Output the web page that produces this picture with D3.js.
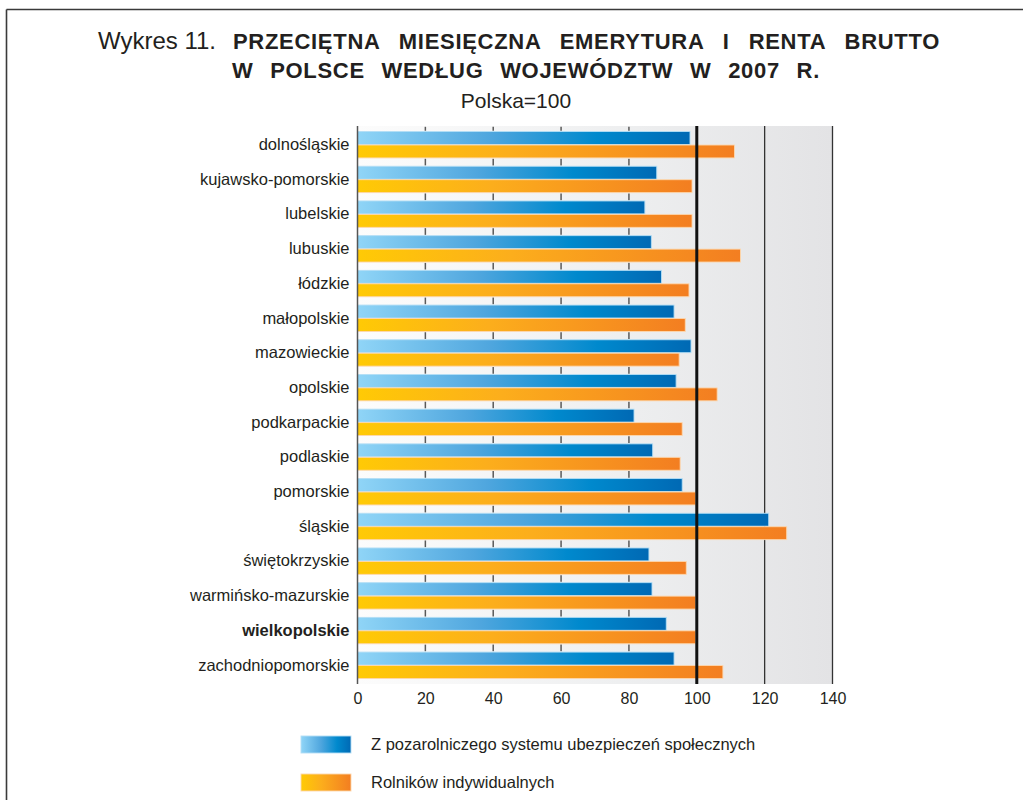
<!DOCTYPE html>
<html>
<head>
<meta charset="utf-8">
<script src="https://cdn.jsdelivr.net/npm/d3@7"></script>
<style>
  body { margin: 0; background: #fff; }
  svg { display: block; font-family: "Liberation Sans", Arial, sans-serif; }
</style>
</head>
<body>
<svg width="1023" height="800"></svg>
<script>
// województwa, top to bottom
var regions = ["dolnośląskie", "kujawsko-pomorskie", "lubelskie", "lubuskie", "łódzkie",
    "małopolskie", "mazowieckie", "opolskie", "podkarpackie", "podlaskie", "pomorskie",
    "śląskie", "świętokrzyskie", "warmińsko-mazurskie", "wielkopolskie", "zachodniopomorskie"];
// Z pozarolniczego systemu ubezpieczeń społecznych
var pozarolniczy = [98.0, 88.2, 84.7, 86.6, 89.6, 93.3, 98.3, 93.9, 81.5, 87.0, 95.7, 121.2, 85.9, 86.8, 91.0, 93.3];
// Rolników indywidualnych
var rolnicy = [111.1, 98.6, 98.6, 112.9, 97.7, 96.6, 94.8, 106.0, 95.7, 95.1, 99.7, 126.5, 96.9, 99.7, 99.7, 107.7];
var seriesNames = ["Z pozarolniczego systemu ubezpieczeń społecznych", "Rolników indywidualnych"];
var xTicks = [0, 20, 40, 60, 80, 100, 120, 140];
var boldRegion = "wielkopolskie";

function render() {
    var svg = d3.select("svg");
    var top = 126, bottom = 684;

    var x = d3.scaleLinear().domain([0, 140]).range([357.5, 832.5]);
    var y0 = d3.scaleBand().domain(regions).range([top, bottom])
        .paddingInner(0.24).paddingOuter(0.16);
    var y1 = d3.scaleBand().domain([0, 1]).range([0, y0.bandwidth()]).paddingInner(0.04);

    var defs = svg.append("defs");
    function grad(id, stops) {
        var g = defs.append("linearGradient").attr("id", id)
            .attr("x1", 0).attr("x2", 1).attr("y1", 0).attr("y2", 0);
        stops.forEach(function (s) {
            g.append("stop").attr("offset", s[0]).attr("stop-color", s[1]);
        });
    }
    grad("bgGrad", [[0, "#fcfcfc"], [0.55, "#eeeff0"], [1, "#e3e3e5"]]);
    grad("blueGrad", [[0, "#90d5f7"], [0.4, "#4fa6de"], [0.72, "#0089cd"], [1, "#0069b4"]]);
    grad("orangeGrad", [[0, "#ffca05"], [0.4, "#fcae1c"], [1, "#f37e21"]]);

    // frame
    svg.append("line").attr("x1", 6.5).attr("x2", 1023).attr("y1", 9.5).attr("y2", 9.5)
        .attr("stroke", "#3a3a3a").attr("stroke-width", 1.6);
    svg.append("line").attr("x1", 6.5).attr("x2", 6.5).attr("y1", 9.5).attr("y2", 800)
        .attr("stroke", "#3a3a3a").attr("stroke-width", 1.6);

    // title
    svg.append("text").attr("x", 98).attr("y", 49)
        .style("font-size", "24px").attr("fill", "#231f20").text("Wykres 11.");
    function spreadText(txt, x0, x1, yy) {
        var ls = 0.7;
        var el = svg.append("text").attr("x", x0).attr("y", yy)
            .style("font-size", "22px").style("font-weight", "bold")
            .style("letter-spacing", ls + "px")
            .attr("fill", "#231f20").text(txt);
        var w = el.node().getComputedTextLength();
        var spaces = txt.split(" ").length - 1;
        el.style("word-spacing", ((x1 - x0 - w) / spaces) + "px");
        return el;
    }
    spreadText("PRZECIĘTNA MIESIĘCZNA EMERYTURA I RENTA BRUTTO", 233, 940, 49);
    spreadText("W POLSCE WEDŁUG WOJEWÓDZTW W 2007 R.", 232, 820, 78);
    svg.append("text").attr("x", 516).attr("y", 108).attr("text-anchor", "middle")
        .style("font-size", "21px").attr("fill", "#231f20").text("Polska=100");

    // plot background
    svg.append("rect").attr("x", x(0)).attr("y", top)
        .attr("width", x(140) - x(0)).attr("height", bottom - top)
        .attr("fill", "url(#bgGrad)");

    // short ticks in the gaps between regions
    var gaps = regions.map(function (r, i) {
        var g1 = i === 0 ? top : y0(regions[i - 1]) + y0.bandwidth();
        return [g1 + 0.8, y0(r) - 0.8];
    });
    var tickG = svg.append("g");
    gaps.forEach(function (g) {
        [20, 40, 60, 80].forEach(function (v) {
            tickG.append("line").attr("x1", x(v)).attr("x2", x(v))
                .attr("y1", g[0]).attr("y2", g[1])
                .attr("stroke", "#5a5a5a").attr("stroke-width", 1.5);
        });
    });

    // full height lines at 120 and 140
    [120, 140].forEach(function (v) {
        svg.append("line").attr("x1", x(v)).attr("x2", x(v)).attr("y1", top).attr("y2", bottom)
            .attr("stroke", "#333").attr("stroke-width", 1.3);
    });

    // bars
    var rows = svg.append("g").selectAll("g").data(regions).join("g")
        .attr("transform", function (d) { return "translate(0," + y0(d) + ")"; });
    rows.append("rect")
        .attr("x", x(0))
        .attr("y", y1(0))
        .attr("height", y1.bandwidth())
        .attr("width", function (d, i) { return x(pozarolniczy[i]) - x(0); })
        .attr("fill", "url(#blueGrad)")
        .attr("stroke", "#b3def5").attr("stroke-width", 0.9);
    rows.append("rect")
        .attr("x", x(0))
        .attr("y", y1(1))
        .attr("height", y1.bandwidth())
        .attr("width", function (d, i) { return x(rolnicy[i]) - x(0); })
        .attr("fill", "url(#orangeGrad)")
        .attr("stroke", "#fdd7ae").attr("stroke-width", 0.9);

    // 100 reference line
    svg.append("line").attr("x1", x(100)).attr("x2", x(100)).attr("y1", top).attr("y2", bottom)
        .attr("stroke", "#111").attr("stroke-width", 3);

    // left axis line
    svg.append("line").attr("x1", x(0)).attr("x2", x(0)).attr("y1", top).attr("y2", bottom)
        .attr("stroke", "#555").attr("stroke-width", 1.5);

    // category labels
    var yAxis = svg.append("g").attr("transform", "translate(" + (x(0) - 8) + ",0)")
        .call(d3.axisLeft(y0).tickSize(0).tickPadding(0));
    yAxis.select(".domain").remove();
    yAxis.selectAll("text")
        .style("font-size", "16.5px").style("font-family", "'Liberation Sans', Arial, sans-serif")
        .attr("fill", "#231f20")
        .style("font-weight", function (d) { return d === boldRegion ? "bold" : "normal"; });

    // x tick labels
    var xAxis = svg.append("g").attr("transform", "translate(0," + bottom + ")")
        .call(d3.axisBottom(x).tickValues(xTicks).tickSize(0).tickPadding(9));
    xAxis.select(".domain").remove();
    xAxis.selectAll("text")
        .style("font-size", "16px").style("font-family", "'Liberation Sans', Arial, sans-serif")
        .attr("fill", "#231f20");

    // legend
    var legend = svg.append("g").selectAll("g").data(seriesNames).join("g")
        .attr("transform", function (d, i) { return "translate(301," + (736 + i * 38) + ")"; });
    legend.append("rect").attr("width", 50).attr("height", 17)
        .attr("fill", function (d, i) { return i === 0 ? "url(#blueGrad)" : "url(#orangeGrad)"; })
        .attr("stroke", function (d, i) { return i === 0 ? "#b3def5" : "#fdd7ae"; })
        .attr("stroke-width", 0.9);
    legend.append("text").attr("x", 70).attr("y", 13.5)
        .style("font-size", "16.5px").attr("fill", "#231f20")
        .text(function (d) { return d; });
}

render();
</script>
</body>
</html>
